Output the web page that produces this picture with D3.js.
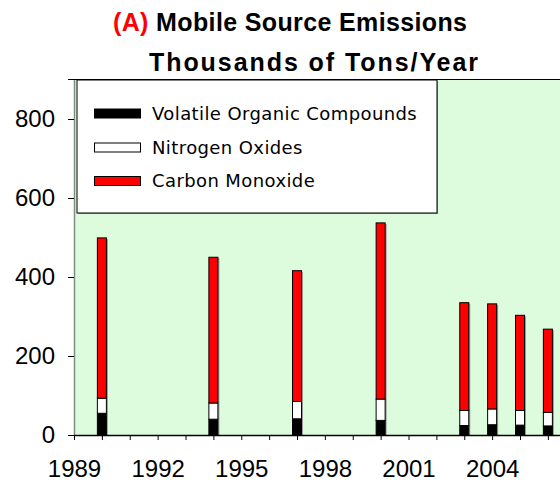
<!DOCTYPE html>
<html>
<head>
<meta charset="utf-8">
<script src="https://cdn.jsdelivr.net/npm/d3@7/dist/d3.min.js"></script>
<style>
  body { margin: 0; background: #fff; }
  svg { display: block; }
</style>
</head>
<body>
<div id="chart"></div>
<script>
(function() {
"use strict"

var width = 560, height = 486;

// data (thousands of tons / year)
var years = [1990, 1994, 1997, 2000, 2003, 2004, 2005, 2006];
var voc = [55, 40, 41, 37, 24, 26, 25, 23];       // Volatile Organic Compounds
var nox = [38, 41, 44, 54, 38, 40, 37, 34];       // Nitrogen Oxides
var co  = [406, 369, 331, 446, 273, 266, 241, 211]; // Carbon Monoxide
var seriesNames = ["Volatile Organic Compounds", "Nitrogen Oxides", "Carbon Monoxide"];
var seriesColors = ["#000000", "#ffffff", "#ff0000"];
var yTicks = [0, 200, 400, 600, 800];
var xTickLabels = [1989, 1992, 1995, 1998, 2001, 2004];

var plot = {left: 74, top: 79.5, right: 560, bottom: 435};

var svg = d3.select("#chart").append("svg")
    .attr("width", width)
    .attr("height", height);

//scales
var x = d3.scaleLinear().domain([1989, 2007]).range([plot.left, plot.left + 18 * 27.875]);
var y = d3.scaleLinear().domain([0, 900]).range([plot.bottom, plot.top]);

//plot background
svg.append("rect")
    .attr("x", plot.left).attr("y", plot.top)
    .attr("width", plot.right - plot.left).attr("height", plot.bottom - plot.top)
    .style("fill", "#ddfcdd");

svg.append("line")
    .attr("x1", 68).attr("x2", plot.right)
    .attr("y1", plot.top).attr("y2", plot.top)
    .style("stroke", "#000").style("stroke-width", 1.2);

//stacked data
var rows = years.map(function(yr, i) { return {year: yr, v0: voc[i], v1: nox[i], v2: co[i]}; });
var stack = d3.stack().keys(["v0", "v1", "v2"])(rows);

var barW = 9;
var bars = svg.append("g");

// faint shadow behind each column
bars.selectAll("rect.shadow")
    .data(rows)
  .enter().append("rect")
    .attr("class", "shadow")
    .attr("x", function(d) { return x(d.year) - barW / 2 + 1.5; })
    .attr("y", function(d) { return y(d.v0 + d.v1 + d.v2) + 1; })
    .attr("width", barW)
    .attr("height", function(d) { return y(0) - y(d.v0 + d.v1 + d.v2) - 1; })
    .style("fill", "#999");

stack.forEach(function(layer, k) {
    bars.append("g").selectAll("rect")
        .data(layer)
      .enter().append("rect")
        .attr("x", function(d) { return x(d.data.year) - barW / 2; })
        .attr("y", function(d) { return y(d[1]); })
        .attr("width", barW)
        .attr("height", function(d) { return y(d[0]) - y(d[1]); })
        .style("fill", seriesColors[k])
        .style("stroke", "#000")
        .style("stroke-width", 1);
});

//y axis
var yAxis = svg.append("g")
    .attr("transform", "translate(" + plot.left + ",0)")
    .call(d3.axisLeft(y).tickValues(yTicks).tickSizeInner(6).tickSizeOuter(0).tickPadding(13));
yAxis.select(".domain").style("stroke", "#7f8f7f").style("stroke-width", 1.5);
yAxis.selectAll(".tick line").style("stroke", "#000");
yAxis.selectAll("text")
    .style("font-family", "'Liberation Sans', Arial, sans-serif")
    .style("font-size", "24px")
    .style("fill", "#000");

//x axis
var xAxis = svg.append("g")
    .attr("transform", "translate(0," + plot.bottom + ")")
    .call(d3.axisBottom(x).tickValues(d3.range(1989, 2007)).tickSizeInner(5).tickSizeOuter(0).tickPadding(20)
        .tickFormat(function(d) { return xTickLabels.indexOf(d) >= 0 ? d : ""; }));
xAxis.select(".domain").attr("d", "M" + plot.left + ",0.5H" + plot.right).style("stroke", "#000").style("stroke-width", 1.5);
xAxis.selectAll(".tick line").style("stroke", "#000");
xAxis.selectAll("text")
    .style("font-family", "'Liberation Sans', Arial, sans-serif")
    .style("font-size", "24px")
    .style("fill", "#000");

//legend
var lg = svg.append("g");
lg.append("rect")
    .attr("x", 78).attr("y", 81).attr("width", 360).attr("height", 133)
    .style("fill", "#999");
lg.append("rect")
    .attr("x", 77).attr("y", 80).attr("width", 360).attr("height", 133)
    .style("fill", "#fff").style("stroke", "#000").style("stroke-width", 1);

var rowY = [113.5, 147.5, 181];
seriesNames.forEach(function(name, k) {
    lg.append("rect")
        .attr("x", 94.5).attr("y", rowY[k] - 4.5)
        .attr("width", 46).attr("height", 9)
        .style("fill", seriesColors[k]).style("stroke", "#000").style("stroke-width", 1);
    lg.append("text")
        .attr("x", 152).attr("y", rowY[k]).attr("dy", "0.35em")
        .style("font-family", "'DejaVu Sans', Verdana, sans-serif")
        .style("font-size", "18px")
        .style("letter-spacing", "0.4px")
        .text(name);
});

//title
var title = svg.append("g")
    .style("font-family", "'Liberation Sans', Arial, sans-serif")
    .style("font-size", "25px")
    .style("font-weight", "bold");
var t1 = title.append("text").attr("x", 113).attr("y", 31)
    .attr("textLength", 354).attr("lengthAdjust", "spacing");
t1.append("tspan").style("fill", "#ff0000").text("(A)");
t1.append("tspan").style("fill", "#000").text(" Mobile Source Emissions");
title.append("text").attr("x", 149).attr("y", 71)
    .attr("textLength", 329).attr("lengthAdjust", "spacing")
    .style("fill", "#000").text("Thousands of Tons/Year");

})();
</script>
</body>
</html>
